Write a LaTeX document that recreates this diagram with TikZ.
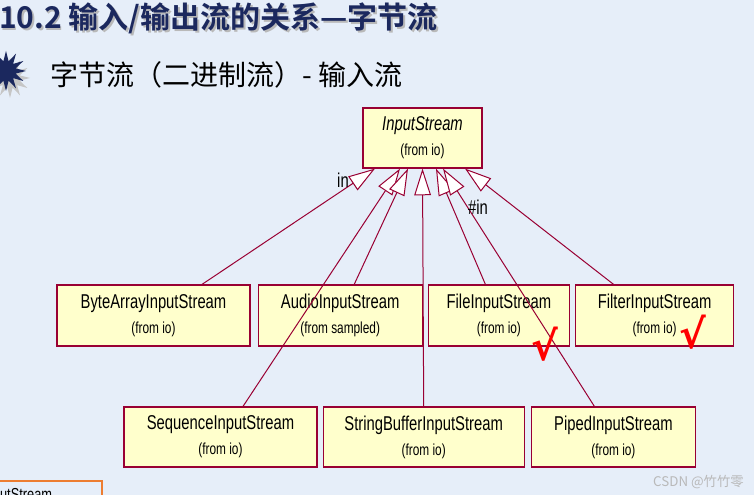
\documentclass[tikz,border=0pt]{standalone}
\usepackage{fontspec}
\usepackage{tikz}
\usetikzlibrary{arrows.meta, positioning, calc, shapes.geometric}
\newfontfamily\umlfont[FakeStretch=0.74]{Liberation Sans}
\newfontfamily\cjkfont[BoldFont={Noto Sans CJK SC Bold}]{Noto Sans CJK SC}
\newfontfamily\markfont{DejaVu Sans}
\definecolor{umlred}{RGB}{153,0,51}
\definecolor{umlfill}{RGB}{255,255,204}
\definecolor{slidebg}{RGB}{230,238,249}
\definecolor{titlenavy}{RGB}{27,40,94}
\definecolor{boxorange}{RGB}{237,125,49}
\newcommand{\frompkg}[1]{{\upshape\fontsize{12}{14}\selectfont (from #1)}}
\tikzset{
  cls/.style={rectangle, draw=umlred, fill=umlfill, line width=0.9pt,
    inner sep=0pt, minimum height=45.75pt, align=center,
    font=\umlfont\fontsize{15}{18.75}\selectfont},
  abstractcls/.style={cls, font=\umlfont\itshape\fontsize{15}{18.75}\selectfont},
  inherit/.style={draw=umlred, line width=0.75pt,
    -{Triangle[length=20pt, width=12.5pt, fill=white]}},
  role/.style={font=\umlfont\fontsize{15}{18}\selectfont, inner sep=0pt},
  okmark/.style={text=red, font=\markfont\bfseries\fontsize{30}{30}\selectfont, inner sep=0pt}
}
\begin{document}
\begin{tikzpicture}[x=0.75pt, y=-0.75pt]
  \useasboundingbox (0,0) rectangle (754,495);
  \fill[slidebg] (0,0) rectangle (754,495);

  % slide heading
  \node[anchor=base west, inner sep=0pt, text=gray!55,
    font=\cjkfont\bfseries\fontsize{22.5}{27}\selectfont] (titleshadow) at (0.5,30.5) {10.2 输入/输出流的关系—字节流};
  \node[anchor=base west, inner sep=0pt, text=titlenavy,
    font=\cjkfont\bfseries\fontsize{22.5}{27}\selectfont] (title) at (-1,29) {10.2 输入/输出流的关系—字节流};
  \node[star, star points=12, star point ratio=2, fill=gray!45, minimum size=30pt, inner sep=0pt] (bulletshadow) at (10,78) {};
  \node[star, star points=12, star point ratio=2, fill=titlenavy, minimum size=30pt, inner sep=0pt] (bullet) at (6,71) {};
  \node[anchor=base west, inner sep=0pt,
    font=\cjkfont\fontsize{21}{25}\selectfont] (subtitle) at (50,86) {字节流（二进制流）- 输入流};

  % classes
  \node[abstractcls, minimum width=89.25pt, minimum height=45pt] (ins) at (422.5,138) {InputStream\\\frompkg{io}};
  \node[cls, minimum width=144.75pt] (bytearr) at (153.5,315.5) {ByteArrayInputStream\\\frompkg{io}};
  \node[cls, minimum width=123pt, right=5.25pt of bytearr] (audio) {AudioInputStream\\\frompkg{sampled}};
  \node[cls, minimum width=105.75pt, right=3.75pt of audio] (file) {FileInputStream\\\frompkg{io}};
  \node[cls, minimum width=118.5pt, right=3.75pt of file] (filter) {FilterInputStream\\\frompkg{io}};
  \node[cls, minimum width=144.75pt, minimum height=45pt] (seq) at (220.5,437) {SequenceInputStream\\\frompkg{io}};
  \node[cls, minimum width=150.75pt, minimum height=45pt, right=3.75pt of seq] (strbuf) {StringBufferInputStream\\\frompkg{io}};
  \node[cls, minimum width=123pt, minimum height=45pt, right=4.5pt of strbuf] (piped) {PipedInputStream\\\frompkg{io}};

  % generalisations
  \draw[inherit] ($(bytearr.north)+(48.5,0)$) -- ($(ins.south)+(-47.5,0)$);
  \draw[inherit] ($(seq.north)+(22.5,0)$) -- ($(ins.south)+(-22.5,0)$);
  \draw[inherit] ($(audio.north)+(14,0)$) -- ($(ins.south)+(-14.5,0)$);
  \draw[inherit] (strbuf.north) -- (ins.south);
  \draw[inherit] ($(file.north)+(-13.5,0)$) -- ($(ins.south)+(13.5,0)$);
  \draw[inherit] ($(piped.north)+(-19,0)$) -- ($(ins.south)+(20.5,0)$);
  \draw[inherit] ($(filter.north)+(-41,0)$) -- ($(ins.south)+(42.5,0)$);
  \node[role] (inrole) at (343,180) {in};
  \node[role] (hashinrole) at (478,207) {\#in};

  % marks
  \node[okmark] (okfile) at (545,344) {√};
  \node[okmark] (okfilter) at (693,332) {√};

  % cut-off box at the lower left
  \draw[boxorange, line width=1.5pt] (-20,481) rectangle (102,530);
  \node[anchor=north west, inner sep=0pt, font=\umlfont\fontsize{13}{15}\selectfont] (cutlabel) at (-18,488) {InputStream};

  \node[anchor=base east, inner sep=0pt, text=gray!55,
    font=\cjkfont\fontsize{10}{12}\selectfont] (watermark) at (744,486) {CSDN @竹竹零};
\end{tikzpicture}
\end{document}
